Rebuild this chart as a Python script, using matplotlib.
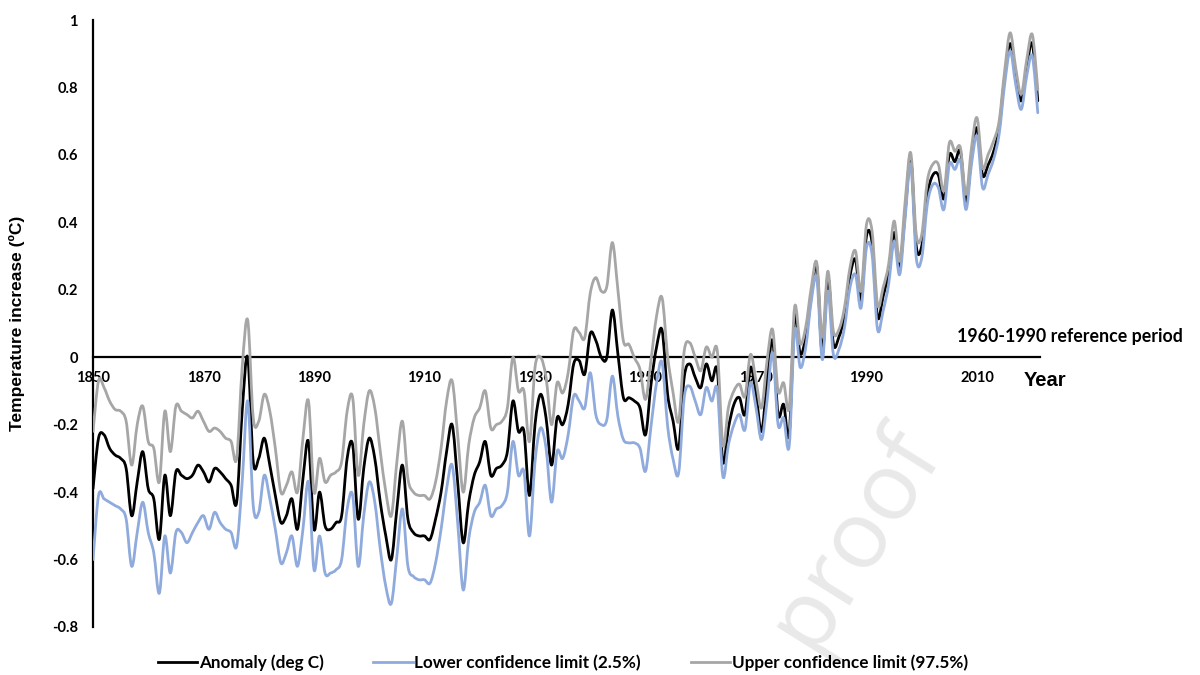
import numpy as np
import matplotlib
matplotlib.use("Agg")
import matplotlib.pyplot as plt
from matplotlib.path import Path
from matplotlib.patches import PathPatch
from matplotlib.lines import Line2D

# ---------------- data ----------------
years = list(range(1850, 2022))

anomaly = [
    -0.39, -0.24, -0.23, -0.27, -0.29, -0.30, -0.33, -0.47, -0.37, -0.28,   # 1850s
    -0.39, -0.42, -0.54, -0.35, -0.47, -0.34, -0.35, -0.36, -0.35, -0.32,   # 1860s
    -0.34, -0.37, -0.33, -0.34, -0.36, -0.38, -0.43, -0.16, 0.00, -0.31,    # 1870s
    -0.30, -0.24, -0.32, -0.41, -0.49, -0.47, -0.42, -0.51, -0.36, -0.25,   # 1880s
    -0.51, -0.40, -0.50, -0.51, -0.49, -0.47, -0.30, -0.26, -0.48, -0.33,   # 1890s
    -0.24, -0.30, -0.43, -0.53, -0.60, -0.45, -0.32, -0.48, -0.52, -0.53,   # 1900s
    -0.53, -0.54, -0.48, -0.40, -0.28, -0.20, -0.37, -0.55, -0.43, -0.35,   # 1910s
    -0.31, -0.25, -0.35, -0.33, -0.32, -0.28, -0.13, -0.22, -0.22, -0.41,   # 1920s
    -0.20, -0.11, -0.18, -0.32, -0.18, -0.20, -0.14, -0.02, -0.01, -0.05,   # 1930s
    0.07, 0.05, 0.00, 0.00, 0.14, 0.01, -0.12, -0.12, -0.13, -0.15,         # 1940s
    -0.23, -0.08, 0.03, 0.08, -0.11, -0.19, -0.27, -0.06, -0.02, -0.06,     # 1950s
    -0.09, -0.02, -0.07, -0.04, -0.31, -0.21, -0.14, -0.12, -0.17, -0.03,   # 1960s
    -0.11, -0.22, -0.07, 0.05, -0.17, -0.14, -0.23, 0.12, 0.01, 0.06,       # 1970s
    0.18, 0.27, 0.01, 0.24, 0.04, 0.06, 0.12, 0.24, 0.29, 0.17,             # 1980s
    0.36, 0.34, 0.12, 0.18, 0.25, 0.37, 0.27, 0.43, 0.59, 0.33,             # 1990s
    0.33, 0.48, 0.54, 0.54, 0.47, 0.60, 0.58, 0.61, 0.46, 0.59,             # 2000s
    0.68, 0.54, 0.57, 0.61, 0.68, 0.83, 0.93, 0.84, 0.76, 0.86,             # 2010s
    0.93, 0.76,                                                             # 2020-21
]

lower = [
    -0.60, -0.41, -0.42, -0.43, -0.44, -0.45, -0.48, -0.62, -0.52, -0.43,
    -0.52, -0.58, -0.70, -0.53, -0.64, -0.52, -0.52, -0.55, -0.52, -0.49,
    -0.47, -0.51, -0.46, -0.49, -0.51, -0.52, -0.56, -0.37, -0.13, -0.44,
    -0.46, -0.35, -0.42, -0.51, -0.61, -0.58, -0.53, -0.62, -0.51, -0.37,
    -0.63, -0.53, -0.64, -0.64, -0.63, -0.60, -0.45, -0.41, -0.62, -0.47,
    -0.37, -0.43, -0.57, -0.68, -0.73, -0.59, -0.45, -0.62, -0.65, -0.66,
    -0.66, -0.67, -0.61, -0.51, -0.39, -0.32, -0.49, -0.69, -0.54, -0.46,
    -0.43, -0.38, -0.47, -0.45, -0.44, -0.40, -0.25, -0.35, -0.34, -0.53,
    -0.31, -0.21, -0.27, -0.43, -0.28, -0.30, -0.23, -0.115, -0.13, -0.15,
    -0.046, -0.17, -0.20, -0.185, -0.056, -0.175, -0.244, -0.254, -0.254, -0.27,
    -0.338, -0.204, -0.076, -0.016, -0.204, -0.303, -0.343, -0.12, -0.086, -0.13,
    -0.17, -0.09, -0.13, -0.096, -0.353, -0.26, -0.20, -0.17, -0.215, -0.076,
    -0.15, -0.244, -0.13, 0.013, -0.20, -0.18, -0.264, 0.08, -0.03, 0.03,
    0.166, 0.235, -0.007, 0.196, 0.008, 0.023, 0.087, 0.206, 0.245, 0.146,
    0.325, 0.305, 0.082, 0.137, 0.216, 0.344, 0.245, 0.413, 0.572, 0.295,
    0.295, 0.453, 0.512, 0.503, 0.438, 0.572, 0.557, 0.582, 0.438, 0.572,
    0.656, 0.503, 0.542, 0.587, 0.661, 0.809, 0.908, 0.809, 0.735, 0.834,
    0.893, 0.725,
]

upper = [
    -0.22, -0.07, -0.09, -0.13, -0.155, -0.16, -0.19, -0.32, -0.20, -0.145,
    -0.25, -0.27, -0.37, -0.16, -0.28, -0.145, -0.16, -0.17, -0.18, -0.16,
    -0.19, -0.22, -0.21, -0.22, -0.24, -0.25, -0.30, -0.03, 0.11, -0.18,
    -0.19, -0.11, -0.16, -0.27, -0.40, -0.38, -0.34, -0.40, -0.24, -0.13,
    -0.40, -0.30, -0.37, -0.35, -0.34, -0.31, -0.16, -0.12, -0.35, -0.20,
    -0.10, -0.15, -0.28, -0.40, -0.47, -0.31, -0.19, -0.36, -0.40, -0.41,
    -0.41, -0.42, -0.37, -0.27, -0.13, -0.07, -0.23, -0.40, -0.26, -0.18,
    -0.15, -0.10, -0.21, -0.20, -0.19, -0.15, 0.00, -0.10, -0.10, -0.25,
    -0.03, 0.00, -0.06, -0.20, -0.076, -0.106, -0.046, 0.08, 0.073, 0.058,
    0.19, 0.236, 0.196, 0.21, 0.34, 0.20, 0.048, 0.038, -0.002, -0.036,
    -0.125, -0.007, 0.122, 0.176, 0.003, -0.106, -0.19, 0.018, 0.043, 0.0,
    -0.04, 0.03, 0.0, 0.018, -0.26, -0.15, -0.10, -0.08, -0.116, 0.008,
    -0.07, -0.15, -0.01, 0.082, -0.10, -0.076, -0.15, 0.15, 0.04, 0.09,
    0.206, 0.28, 0.06, 0.255, 0.077, 0.082, 0.146, 0.265, 0.315, 0.196,
    0.394, 0.374, 0.156, 0.206, 0.275, 0.404, 0.285, 0.463, 0.606, 0.364,
    0.364, 0.522, 0.572, 0.572, 0.493, 0.636, 0.611, 0.621, 0.483, 0.621,
    0.71, 0.562, 0.601, 0.641, 0.70, 0.849, 0.962, 0.858, 0.78, 0.883,
    0.957, 0.794,
]

series_labels = ["Anomaly (deg C)", "Lower confidence limit (2.5%)",
                 "Upper confidence limit (97.5%)"]
series_colors = ["#000000", "#8faadc", "#a6a6a6"]

xtick_years = list(range(1850, 2011, 20))
ytick_values = [-0.8, -0.6, -0.4, -0.2, 0, 0.2, 0.4, 0.6, 0.8, 1]
ytick_labels = ["-0.8", "-0.6", "-0.4", "-0.2", "0", "0.2", "0.4", "0.6", "0.8", "1"]


def smooth_path(xs, ys):
    """Excel-style smoothed line: cubic Bezier through every data point."""
    pts = np.column_stack([np.asarray(xs, float), np.asarray(ys, float)])
    n = len(pts)
    verts = [pts[0]]
    codes = [Path.MOVETO]
    for i in range(n - 1):
        p0 = pts[i - 1] if i > 0 else pts[i]
        p1 = pts[i]
        p2 = pts[i + 1]
        p3 = pts[i + 2] if i + 2 < n else pts[i + 1]
        verts += [p1 + (p2 - p0) / 6.0, p2 - (p3 - p1) / 6.0, p2]
        codes += [Path.CURVE4] * 3
    return Path(verts, codes)


tick_font = "Lato"
head_font = "Liberation Sans"

fig = plt.figure(figsize=(12, 6.75), dpi=100)
ax = fig.add_axes([93 / 1200, 1 - 627 / 675, 947 / 1200, 607 / 675])
ax.set_xlim(1850, 2021.4)
ax.set_ylim(-0.8, 1.0)

for vals, col, z in zip([anomaly, lower, upper], series_colors, [3, 4, 5]):
    ax.add_patch(PathPatch(smooth_path(years, vals), facecolor="none",
                           edgecolor=col, lw=2.0, zorder=z,
                           joinstyle="round", capstyle="round"))

for s in ["top", "right"]:
    ax.spines[s].set_visible(False)
ax.spines["bottom"].set_position(("data", 0))
ax.spines["left"].set_linewidth(1.6)
ax.spines["bottom"].set_linewidth(1.6)
ax.spines["bottom"].set_zorder(2)

ax.set_xticks(xtick_years)
ax.set_xticklabels([str(y) for y in xtick_years], fontfamily=tick_font,
                   fontweight="bold", fontsize=10.5)
ax.set_yticks(ytick_values)
ax.set_yticklabels(ytick_labels, fontfamily=tick_font, fontweight="bold",
                   fontsize=10.5)
ax.tick_params(axis="x", length=0, pad=10)
ax.tick_params(axis="y", length=0, pad=11)

ax.set_ylabel("Temperature increase (ºC)", fontfamily=head_font,
              fontweight="bold", fontsize=12.5)
ax.yaxis.set_label_coords(-0.072, 0.5)

ax.text(1.0055, -0.07, "Year", transform=ax.get_yaxis_transform(),
        ha="center", va="center", fontfamily=head_font, fontweight="bold",
        fontsize=14.5, clip_on=False)
ax.text(0.912, 0.062, "1960-1990 reference period",
        transform=ax.get_yaxis_transform(), ha="left", va="center",
        fontfamily=tick_font, fontweight="bold", fontsize=12.8, clip_on=False)

# watermark
ax.text(0.805, -0.535, "proof", transform=ax.get_yaxis_transform(),
        rotation=58, ha="center", va="center", fontfamily="Open Sans",
        fontsize=68, color="#e9e9e9", zorder=0.5, clip_on=False)

handles = [Line2D([], [], color=c, lw=2.0) for c in series_colors]
fig.legend(handles, series_labels, loc="center",
           bbox_to_anchor=(0.469, 1 - 663 / 675), ncol=3, frameon=False,
           prop={"family": tick_font, "weight": "bold", "size": 12.3},
           handlelength=2.3, handletextpad=0.1, columnspacing=2.9,
           borderpad=0.2)

fig.savefig("out.png", dpi=100)
